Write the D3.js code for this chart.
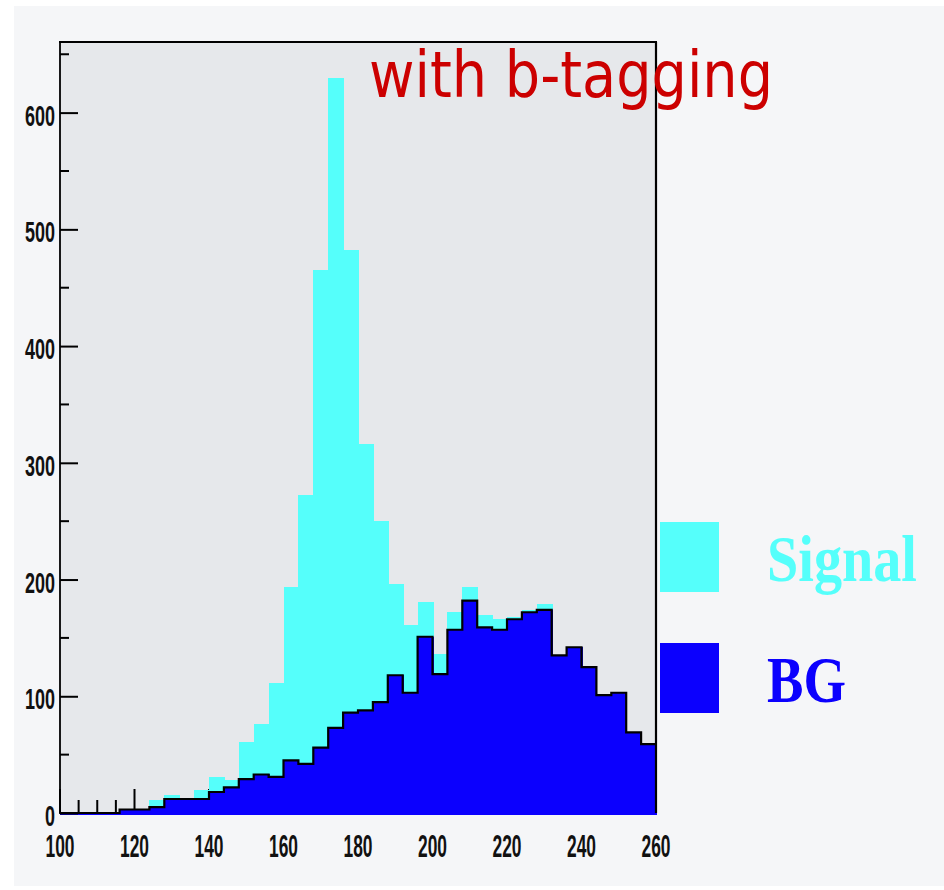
<!DOCTYPE html>
<html>
<head>
<meta charset="utf-8">
<script src="https://cdn.jsdelivr.net/npm/d3@7"></script>
<style>
  html, body { margin: 0; padding: 0; background: #ffffff; }
  svg { display: block; }
</style>
</head>
<body>
<svg id="chart" width="944" height="890"></svg>
<script>
// ---- data ----
const binEdges = d3.range(100, 261, 4);           // 100..260, bin width 4
const bgValues = [0, 0, 0, 0, 3, 3, 5, 12, 12, 12,
                  18, 22, 29, 33, 31, 45, 42, 56, 73, 86,
                  88, 95, 118, 103, 151, 119, 157, 182, 159, 157,
                  166, 172, 174, 135, 142, 125, 101, 103, 69, 59];
const totalValues = [0, 0, 0, 0, 3, 3, 11, 15, 12, 20,
                     31, 28, 61, 76, 111, 194, 272, 465, 630, 482,
                     316, 250, 196, 161, 181, 136, 172, 194, 170, 166,
                     168, 174, 179, 135, 142, 125, 101, 103, 69, 59];
const xTickLabels = [100, 120, 140, 160, 180, 200, 220, 240, 260];
const yTickLabels = [0, 100, 200, 300, 400, 500, 600];
const legendLabels = ["Signal", "BG"];
const titleText = "with b-tagging";

// ---- layout ----
const svg = d3.select("#chart");
const L = 60, R = 656, T = 42, B = 813;
const colSignal = "#55fffb", colBG = "#0b00fe";

svg.append("rect").attr("x", 14).attr("y", 6).attr("width", 930).attr("height", 880).attr("fill", "#f5f6f8");
svg.append("rect").attr("x", L).attr("y", T).attr("width", R - L).attr("height", B - T).attr("fill", "#e6e8eb");

const x = d3.scaleLinear().domain([100, 260]).range([L, R]);
const y = d3.scaleLinear().domain([0, 660.5]).range([B, T]);

// x ticks (drawn under the bars)
const xMinor = d3.range(100, 261, 5);
svg.append("g").selectAll("line").data(xMinor).join("line")
  .attr("x1", d => x(d)).attr("x2", d => x(d))
  .attr("y1", B).attr("y2", d => B - (d % 20 === 0 ? 24 : 13))
  .attr("stroke", "#000").attr("stroke-width", 2);

// bins
const bins = totalValues.map((v, i) => ({ x0: binEdges[i], x1: binEdges[i + 1], total: v, bg: bgValues[i] }));

svg.append("g").attr("shape-rendering", "crispEdges").selectAll("rect").data(bins).join("rect")
  .attr("x", d => x(d.x0)).attr("width", d => x(d.x1) - x(d.x0) + 1)
  .attr("y", d => y(d.total)).attr("height", d => y(0) - y(d.total))
  .attr("fill", colSignal);

svg.append("g").attr("shape-rendering", "crispEdges").selectAll("rect").data(bins).join("rect")
  .attr("x", d => x(d.x0)).attr("width", d => x(d.x1) - x(d.x0) + 1)
  .attr("y", d => y(d.bg)).attr("height", d => y(0) - y(d.bg) + 2)
  .attr("fill", colBG);

// BG outline (step line)
const stepPts = [];
bins.forEach(d => { stepPts.push([x(d.x0), y(d.bg)]); stepPts.push([x(d.x1), y(d.bg)]); });
svg.append("path").attr("d", d3.line()(stepPts))
  .attr("fill", "none").attr("stroke", "#000").attr("stroke-width", 2.2);

// frame
svg.append("line").attr("x1", L - 1).attr("x2", R + 1).attr("y1", T).attr("y2", T).attr("stroke", "#000").attr("stroke-width", 2.2);
svg.append("line").attr("x1", R).attr("x2", R).attr("y1", T).attr("y2", B).attr("stroke", "#000").attr("stroke-width", 2.2);
svg.append("line").attr("x1", L).attr("x2", L).attr("y1", T).attr("y2", B + 1).attr("stroke", "#000").attr("stroke-width", 1.8);

// y axis via d3 axis (ticks inward)
const yAxis = d3.axisRight(y).tickValues(yTickLabels).tickSize(18).tickFormat("");
const gy = svg.append("g").attr("transform", `translate(${L},0)`).call(yAxis);
gy.select(".domain").remove();
gy.selectAll(".tick line").attr("stroke", "#000").attr("stroke-width", 2);
const yMinor = d3.range(50, 660, 100);
svg.append("g").selectAll("line").data(yMinor).join("line")
  .attr("x1", L).attr("x2", L + 9).attr("y1", d => y(d)).attr("y2", d => y(d))
  .attr("stroke", "#000").attr("stroke-width", 2);

// y labels
svg.append("g").selectAll("text").data(yTickLabels).join("text")
  .attr("x", 55).attr("y", d => y(d) + 13)
  .attr("text-anchor", "end")
  .attr("font-family", "'Liberation Sans Narrow', 'Liberation Sans', Arial, sans-serif")
  .attr("font-weight", "bold").attr("font-size", 29)
  .attr("textLength", d => String(d).length * 10)
  .attr("lengthAdjust", "spacingAndGlyphs")
  .attr("fill", "#111")
  .text(d => d);

// x labels
svg.append("g").selectAll("text").data(xTickLabels).join("text")
  .attr("x", d => x(d)).attr("y", 857)
  .attr("text-anchor", "middle")
  .attr("font-family", "'Liberation Sans Narrow', 'Liberation Sans', Arial, sans-serif")
  .attr("font-weight", "bold").attr("font-size", 31)
  .attr("textLength", 29)
  .attr("lengthAdjust", "spacingAndGlyphs")
  .attr("fill", "#111")
  .text(d => d);

// title
svg.append("text").attr("x", 369).attr("y", 97)
  .attr("font-family", "'DejaVu Sans', Verdana, sans-serif")
  .attr("font-size", 64).attr("fill", "#cc0000")
  .attr("textLength", 404).attr("lengthAdjust", "spacingAndGlyphs")
  .text(titleText);

// legend
const legendColors = [colSignal, colBG];
const legendY = [522, 643];
const legendW = [150, 79];
const lg = svg.append("g");
legendLabels.forEach((lab, i) => {
  lg.append("rect").attr("x", 660).attr("y", legendY[i]).attr("width", 59).attr("height", 70).attr("fill", legendColors[i]);
  lg.append("text").attr("x", 767).attr("y", legendY[i] + 59)
    .attr("font-family", "'Liberation Serif', 'Times New Roman', serif")
    .attr("font-weight", "bold").attr("font-size", 66)
    .attr("fill", legendColors[i])
    .attr("textLength", legendW[i]).attr("lengthAdjust", "spacingAndGlyphs")
    .text(lab);
});
</script>
</body>
</html>
